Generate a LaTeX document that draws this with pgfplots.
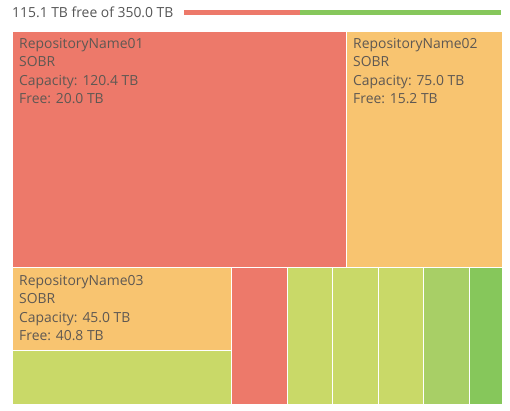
\documentclass[border=0pt]{standalone}
\usepackage{pgfplots}
\pgfplotsset{compat=1.18}
\usepackage{fontspec}
\setmainfont{Open Sans}
\definecolor{tred}{HTML}{ED796A}
\definecolor{torange}{HTML}{F8C470}
\definecolor{tyg}{HTML}{C9D968}
\definecolor{tlg}{HTML}{A8CF66}
\definecolor{tgreen}{HTML}{86C75B}
\definecolor{ttext}{HTML}{5E5853}
\definecolor{ttitle}{HTML}{555555}
\newcommand{\rect}[5]{\addplot[fill=#5, draw=white, line width=0.8pt] coordinates {(#1,#2) (#3,#2) (#3,#4) (#1,#4)} -- cycle;}
\newcommand{\lbl}[7]{%
  \node[anchor=base west, inner sep=0pt, text=ttext, font=\fontsize{13.9}{15}\selectfont] at (axis cs:#1,#2) {#4};
  \node[anchor=base west, inner sep=0pt, text=ttext, font=\fontsize{13.9}{15}\selectfont] at (axis cs:#1,#2+#3) {#5};
  \node[anchor=base west, inner sep=0pt, text=ttext, font=\fontsize{13.9}{15}\selectfont] at (axis cs:#1,#2+2*#3) {#6};
  \node[anchor=base west, inner sep=0pt, text=ttext, font=\fontsize{13.9}{15}\selectfont] at (axis cs:#1,#2+3*#3) {#7};
}
\begin{document}
\begin{tikzpicture}
\begin{axis}[
  scale only axis, width=510pt, height=410pt,
  xmin=0, xmax=510, ymin=0, ymax=410, y dir=reverse,
  hide axis, clip=false, anchor=south west, at={(0,0)}]
% capacity bar
\addplot[tred, line width=5pt] coordinates {(184,12.5) (300,12.5)};
\addplot[tgreen, line width=5pt] coordinates {(300,12.5) (501,12.5)};
% treemap tiles
\rect{12}{31}{346.5}{267.5}{tred}
\rect{346.5}{31}{502}{267.5}{torange}
\rect{12}{267.5}{231.5}{350.5}{torange}
\rect{12}{350.5}{231.5}{404}{tyg}
\rect{231.5}{267.5}{287}{404}{tred}
\rect{287}{267.5}{332.5}{404}{tyg}
\rect{332.5}{267.5}{378}{404}{tyg}
\rect{378}{267.5}{423.5}{404}{tyg}
\rect{423.5}{267.5}{469}{404}{tlg}
\rect{469}{267.5}{502}{404}{tgreen}
\node[anchor=base west, inner sep=0pt, text=ttitle, font=\fontsize{13.9}{15}\selectfont] at (axis cs:12,17) {115.1 TB free of 350.0 TB};
\lbl{19}{48}{18.6}{RepositoryName01}{SOBR}{Capacity: 120.4 TB}{Free: 20.0 TB}
\lbl{353}{48}{18.6}{RepositoryName02}{SOBR}{Capacity: 75.0 TB}{Free: 15.2 TB}
\lbl{19}{285}{18.6}{RepositoryName03}{SOBR}{Capacity: 45.0 TB}{Free: 40.8 TB}
\end{axis}
\pgfresetboundingbox
\path (0,0) rectangle (510pt,410pt);
\end{tikzpicture}
\end{document}
